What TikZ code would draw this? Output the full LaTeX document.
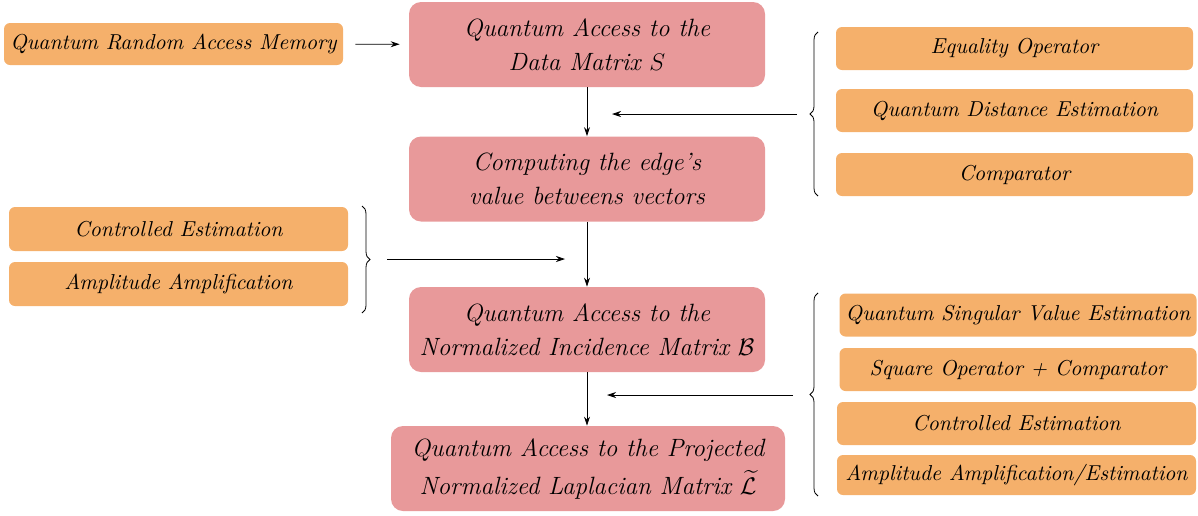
\documentclass[tikz,border=0pt]{standalone}
\usepackage{xcolor}
\usepackage{tikz}
\usepackage{amsmath, amssymb}
\usetikzlibrary{arrows.meta, decorations.pathreplacing, calc}

\definecolor{stepcol}{RGB}{232,153,154}
\definecolor{toolcol}{RGB}{245,176,107}

\begin{document}
\begin{tikzpicture}[
  x=0.5pt, y=-0.5pt,
  every node/.style={inner sep=0pt, align=center, font=\itshape},
  mainbox/.style={fill=stepcol, rounded corners=6pt, minimum width=178pt, minimum height=42.5pt, font=\fontsize{12.5}{17}\selectfont\itshape},
  toolbox/.style={fill=toolcol, rounded corners=3pt, minimum width=178.5pt, minimum height=21.5pt, font=\fontsize{10.8}{13}\selectfont\itshape},
  grpbrace/.style={decorate, decoration={brace, amplitude=4pt}, thin},
  feed/.style={-{Stealth[length=4.5pt, width=3pt]}, thin}
]
\useasboundingbox (0,0) rectangle (1198,515);

% main pipeline
\node[mainbox] (dataS) at (587,44.5) {Quantum Access to the\\Data Matrix $S$};
\node[mainbox] (edge) at (587,179) {Computing the edge's\\value betweens vectors};
\node[mainbox] (incB) at (587,329.5) {Quantum Access to the\\Normalized Incidence Matrix $\mathcal{B}$};
\node[mainbox, minimum width=197pt] (lapL) at (588,468.5) {Quantum Access to the Projected\\[2pt]Normalized Laplacian Matrix $\widetilde{\mathcal{L}}$};

% tools
\node[toolbox, minimum width=169.5pt, minimum height=21pt] (qram) at (173.5,44) {Quantum Random Access Memory};

\node[toolbox] (eqop) at (1014.5,48.5) {Equality Operator};
\node[toolbox] (qde) at (1014.5,110.5) {Quantum Distance Estimation};
\node[toolbox] (comp) at (1014.5,174.5) {Comparator};

\node[toolbox, minimum width=169.5pt, minimum height=22pt] (ceA) at (178.5,229) {Controlled Estimation};
\node[toolbox, minimum width=169.5pt, minimum height=22pt] (aaA) at (178.5,284) {Amplitude Amplification};

\node[toolbox] (qsve) at (1018,315) {Quantum Singular Value Estimation};
\node[toolbox] (sqop) at (1018,369.5) {Square Operator + Comparator};
\node[toolbox, minimum width=179.5pt] (ceB) at (1016.5,423.5) {Controlled Estimation};
\node[toolbox, minimum width=179.5pt, minimum height=20pt] (aaB) at (1016.5,475) {Amplitude Amplification/Estimation};

% braces
\coordinate (b1s) at (818,196);
\coordinate (b1e) at (818,32);
\draw[grpbrace] (b1s) -- (b1e);
\coordinate (b2s) at (362,206);
\coordinate (b2e) at (362,313);
\draw[grpbrace] (b2s) -- (b2e);
\coordinate (b3s) at (818,496);
\coordinate (b3e) at (818,293);
\draw[grpbrace] (b3s) -- (b3e);

% arrows
\coordinate (f1) at (797,114);
\coordinate (t1) at (612,114);
\coordinate (f2) at (387,259);
\coordinate (t2) at (565,259);
\coordinate (f3) at (793,395);
\coordinate (t3) at (607,395);

\draw[feed, shorten <=6pt, shorten >=4.5pt] (qram) -- (dataS);
\draw[feed] (dataS) -- (edge);
\draw[feed] (edge) -- (incB);
\draw[feed] (incB.south) -- (incB.south |- lapL.north);
\draw[feed] (f1) -- (t1);
\draw[feed] (f2) -- (t2);
\draw[feed] (f3) -- (t3);
\end{tikzpicture}
\end{document}
